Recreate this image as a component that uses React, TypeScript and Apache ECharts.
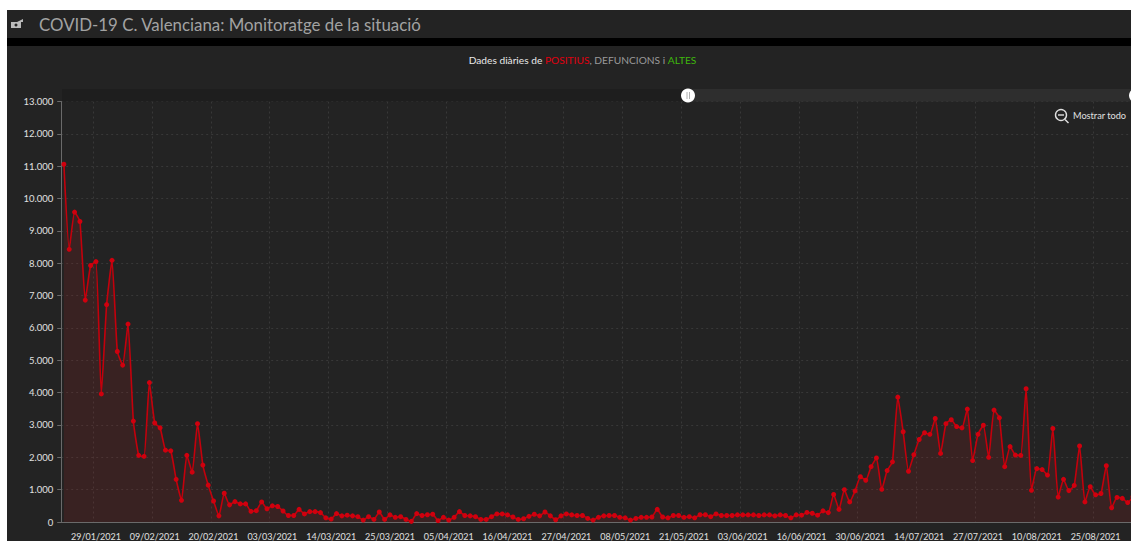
import React, { useEffect, useRef } from "react";
import * as echarts from "echarts";

const headerTitle = "COVID-19 C. Valenciana: Monitoratge de la situació";
const zoomOutLabel = "Mostrar todo";

const tickLabels = [
  "29/01/2021", "09/02/2021", "20/02/2021", "03/03/2021", "14/03/2021", "25/03/2021",
  "05/04/2021", "16/04/2021", "27/04/2021", "08/05/2021", "21/05/2021", "03/06/2021",
  "16/06/2021", "30/06/2021", "14/07/2021", "27/07/2021", "10/08/2021", "25/08/2021",
];
const firstTickIndex = 6;
const tickStep = 11;

const valuesJanFeb = [
  11060, 8430, 9580, 9290, 6860, 7930, 8050, 3960, 6720, 8090, 5270, 4850, 6120, 3120, 2060, 2030,
  4310, 3060, 2910, 2220, 2200, 1320, 670, 2060, 1540, 3040, 1760, 1140, 650, 190,
];
const valuesMarApr = [
  890, 530, 630, 560, 560, 330, 350, 620, 410, 500, 480, 340, 200, 200, 390, 250, 320, 320, 290, 130,
  90, 260, 190, 210, 190, 165, 60, 165, 80, 310, 80, 220, 145, 165, 80, 20, 260, 200, 225, 240,
  40, 145, 60, 145, 320, 200, 190, 165, 80, 80, 165, 250, 250, 220, 155, 80, 100, 175, 240, 190,
];
const valuesMayJun = [
  310, 190, 70, 190, 250, 220, 200, 200, 110, 60, 145, 190, 200, 200, 145, 130, 60, 110, 145, 145,
  155, 390, 155, 130, 200, 200, 145, 165, 130, 225, 225, 165, 250, 200, 200, 200, 220, 220, 220, 220,
  200, 220, 220, 190, 220, 200, 130, 220,
];
const valuesJunAug = [
  210, 295, 270, 210, 345, 290, 850, 390, 1000, 620, 960, 1400, 1290, 1710, 1980, 1010, 1590, 1860, 3860, 2790,
  1570, 2080, 2550, 2760, 2710, 3200, 2120, 3040, 3160, 2950, 2910, 3490, 1900, 2710, 2990, 2000, 3460, 3220, 1710, 2330,
  2070, 2060, 4120, 980, 1650, 1620, 1450, 2890, 770, 1320, 970, 1130, 2350, 620, 1090, 840, 880, 1740, 440, 760,
  730, 600, 780,
];
const dailyPositives = [...valuesJanFeb, ...valuesMarApr, ...valuesMayJun, ...valuesJunAug];

const categories = dailyPositives.map((_, i) => {
  const k = (i - firstTickIndex) / tickStep;
  return Number.isInteger(k) && k >= 0 && k < tickLabels.length ? tickLabels[k] : `p${i}`;
});
const isTick = (i: number) => i >= firstTickIndex && (i - firstTickIndex) % tickStep === 0;

const FONT = "Lato, 'Open Sans', sans-serif";

export default function App() {
  const ref = useRef<HTMLDivElement>(null);
  useEffect(() => {
    document.body.style.margin = "0";
    document.body.style.background = "#fff";
    const chart = echarts.init(ref.current!, undefined, { renderer: "svg" });
    chart.setOption({
      animation: false,
      backgroundColor: "#ffffff",
      grid: { left: 61.2, width: 1074.5, top: 101.5, height: 420.5, containLabel: false, outerBoundsMode: "none" },
      xAxis: {
        type: "category",
        data: categories,
        boundaryGap: true,
        axisLine: { lineStyle: { color: "#6a6a6a", width: 1 } },
        axisTick: { alignWithLabel: true, interval: (i: number) => isTick(i), length: 4, lineStyle: { color: "#6a6a6a" } },
        axisLabel: {
          interval: (i: number) => isTick(i),
          color: "#e0e0e0",
          fontSize: 9,
          lineHeight: 9,
          fontFamily: FONT,
          margin: 10,
          hideOverlap: false,
        },
        splitLine: {
          show: true,
          interval: (i: number) => isTick(i),
          lineStyle: { color: "#383838", type: [2, 3], width: 1 },
        },
      },
      yAxis: {
        type: "value",
        min: 0,
        max: 13000,
        interval: 1000,
        axisLine: { show: true, lineStyle: { color: "#6a6a6a", width: 1 } },
        axisTick: { show: true, length: 4, lineStyle: { color: "#6a6a6a" } },
        axisLabel: {
          color: "#e0e0e0",
          fontSize: 9.5,
          fontFamily: FONT,
          margin: 8,
          formatter: (v: number) => v.toString().replace(/\B(?=(\d{3})+(?!\d))/g, "."),
        },
        splitLine: { show: true, lineStyle: { color: "#383838", type: [2, 3], width: 1 } },
      },
      series: [
        {
          type: "line",
          data: dailyPositives,
          symbol: "circle",
          symbolSize: 5,
          showAllSymbol: true,
          showSymbol: true,
          smooth: 0.15,
          clip: true,
          lineStyle: { color: "#c4000c", width: 1.6 },
          itemStyle: { color: "#d0000e" },
          areaStyle: { color: "rgba(190, 30, 30, 0.2)" },
          z: 5,
        },
      ],
      graphic: [
        { type: "rect", z: -10, silent: true, shape: { x: 7, y: 10, width: 1124, height: 531 }, style: { fill: "#232323" } },
        { type: "rect", z: -9, silent: true, shape: { x: 7, y: 38, width: 1124, height: 8 }, style: { fill: "#000000" } },
        {
          type: "polygon",
          silent: true,
          shape: { points: [[11, 22], [17, 22], [23, 19], [23, 22], [21, 22], [21, 28], [11, 28]] },
          style: { fill: "#b9b9b9" },
        },
        { type: "circle", silent: true, shape: { cx: 16, cy: 25, r: 1.5 }, style: { fill: "#232323" } },
        {
          type: "text",
          silent: true,
          x: 39,
          y: 24.5,
          style: { text: headerTitle, fill: "#a2a2a2", font: `16.85px ${FONT}`, verticalAlign: "middle" },
        },
        {
          type: "text",
          silent: true,
          x: 582.5,
          y: 60,
          style: {
            text: "{w|Dades diàries de }{r|POSITIUS}{g|, DEFUNCIONS i }{v|ALTES}",
            align: "center",
            verticalAlign: "middle",
            font: `10.2px ${FONT}`,
            rich: {
              w: { fill: "#e8e8e8", font: `10.2px ${FONT}` },
              r: { fill: "#e0000f", font: `10.2px ${FONT}` },
              g: { fill: "#9a9a9a", font: `10.2px ${FONT}` },
              v: { fill: "#3fb80c", font: `10.2px ${FONT}` },
            },
          },
        },
        { type: "rect", z: 20, silent: true, shape: { x: 62, y: 89, width: 626, height: 12.5 }, style: { fill: "#1e1e1e" } },
        { type: "rect", z: 20, silent: true, shape: { x: 688, y: 89, width: 443, height: 12.5 }, style: { fill: "#2e2e2e" } },
        { type: "circle", z: 21, silent: true, shape: { cx: 688, cy: 95.5, r: 7 }, style: { fill: "#ffffff" } },
        { type: "line", z: 22, silent: true, shape: { x1: 687, y1: 92, x2: 687, y2: 99 }, style: { stroke: "#b0b0b0", lineWidth: 1 } },
        { type: "line", z: 22, silent: true, shape: { x1: 689.5, y1: 92, x2: 689.5, y2: 99 }, style: { stroke: "#b0b0b0", lineWidth: 1 } },
        { type: "circle", z: 21, silent: true, shape: { cx: 1136, cy: 95.5, r: 7 }, style: { fill: "#ffffff" } },
        { type: "circle", z: 21, silent: true, shape: { cx: 1061, cy: 115, r: 5.5 }, style: { fill: "none", stroke: "#e0e0e0", lineWidth: 1.4 } },
        { type: "line", z: 21, silent: true, shape: { x1: 1058, y1: 115, x2: 1064, y2: 115 }, style: { stroke: "#e0e0e0", lineWidth: 1.4 } },
        { type: "line", z: 21, silent: true, shape: { x1: 1065, y1: 119.5, x2: 1068.5, y2: 123 }, style: { stroke: "#e0e0e0", lineWidth: 1.4 } },
        {
          type: "text",
          z: 21,
          silent: true,
          x: 1073,
          y: 115.5,
          style: { text: zoomOutLabel, fill: "#e0e0e0", font: `9.2px ${FONT}`, verticalAlign: "middle" },
        },
      ],
    });
    return () => chart.dispose();
  }, []);
  return <div ref={ref} style={{ width: 1131, height: 541 }} />;
}
